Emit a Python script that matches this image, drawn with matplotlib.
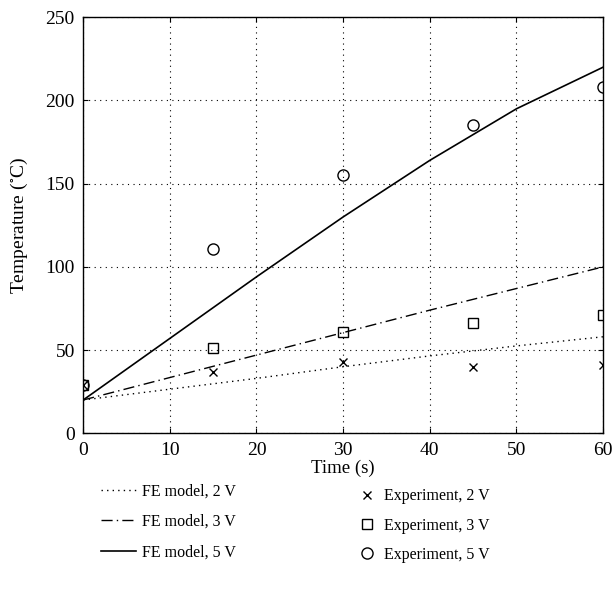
import numpy as np
import matplotlib.pyplot as plt
from matplotlib.lines import Line2D

plt.rcParams['font.family'] = ['Liberation Serif', 'DejaVu Serif']
plt.rcParams['font.size'] = 12
plt.rcParams['mathtext.fontset'] = 'stix'

# FE model curves
t_model = [0, 10, 20, 30, 40, 50, 60]
fe_2v = [20, 26.5, 33, 40, 46.5, 52.5, 58]
fe_3v = [20, 33.5, 47, 60.5, 74, 87, 100]
fe_5v = [20, 57, 94, 130, 164, 195, 220]

# experimental points
t_exp = [0, 15, 30, 45, 60]
exp_2v = [29, 37, 43, 40, 41]
exp_3v = [29, 51, 61, 66, 71]
exp_5v = [29, 111, 155, 185, 208]

fig = plt.figure(figsize=(6.16, 5.96), dpi=100)
ax = fig.add_axes([0.135, 0.273, 0.844, 0.698])

l1, = ax.plot(t_model, fe_2v, color='black', lw=1, linestyle=(0, (1, 3)))
l2, = ax.plot(t_model, fe_3v, color='black', lw=1, linestyle=(0, (8, 3, 1, 3)))
l3, = ax.plot(t_model, fe_5v, color='black', lw=1.2, linestyle='-')

m1, = ax.plot(t_exp, exp_2v, 'x', color='black', ms=6, mew=1, ls='none')
m2, = ax.plot(t_exp, exp_3v, 's', mfc='none', mec='black', ms=6.5, mew=1, ls='none')
m3, = ax.plot(t_exp, exp_5v, 'o', mfc='none', mec='black', ms=8, mew=1, ls='none')

ax.set_xlim(0, 60)
ax.set_ylim(0, 250)
ax.set_xticks(range(0, 61, 10))
ax.set_yticks(range(0, 251, 50))
ax.grid(True, color='black', linestyle=(0, (1, 4)), lw=0.8)
ax.tick_params(direction='in', top=True, right=True, labelsize=14, pad=6)
for s in ax.spines.values():
    s.set_linewidth(1)
ax.set_xlabel('Time (s)', fontsize=13.5, labelpad=1)
ax.set_ylabel('Temperature ($^{\\circ}$C)', fontsize=14, labelpad=11)

leg1 = fig.legend([l1, l2, l3], ['FE model, 2 V', 'FE model, 3 V', 'FE model, 5 V'],
                  loc='upper left', bbox_to_anchor=(0.14, 0.213), frameon=False,
                  handlelength=2.2, handletextpad=0.4, labelspacing=0.9, fontsize=11.5)
leg2 = fig.legend([m1, m2, m3], ['Experiment, 2 V', 'Experiment, 3 V', 'Experiment, 5 V'],
                  loc='upper left', bbox_to_anchor=(0.56, 0.205), frameon=False,
                  handlelength=1, handletextpad=0.55, labelspacing=0.84, fontsize=11.5)

fig.savefig('out.png', dpi=100)
